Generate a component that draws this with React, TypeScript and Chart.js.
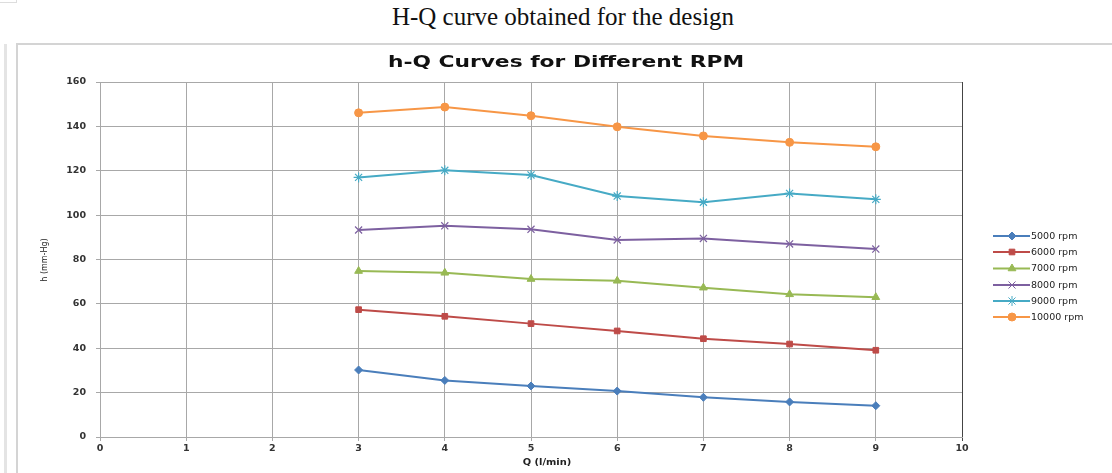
import React, { useEffect, useRef } from "react";
import { Chart, registerables } from "chart.js";
import { drawPoint } from "chart.js/helpers";

Chart.register(...registerables);

const qValues = [3, 4, 5, 6, 7, 8, 9];
const seriesNames = ["5000 rpm", "6000 rpm", "7000 rpm", "8000 rpm", "9000 rpm", "10000 rpm"];
const h5000 = [30.2, 25.5, 23.0, 20.7, 17.9, 15.8, 14.1];
const h6000 = [57.4, 54.4, 51.1, 47.8, 44.3, 41.9, 39.1];
const h7000 = [74.8, 74.0, 71.2, 70.4, 67.3, 64.3, 63.0];
const h8000 = [93.3, 95.2, 93.6, 88.8, 89.5, 87.0, 84.7];
const h9000 = [117.0, 120.2, 118.1, 108.6, 105.8, 109.8, 107.1];
const h10000 = [146.1, 148.7, 144.8, 139.8, 135.7, 132.8, 130.8];
const xTicks = [0, 1, 2, 3, 4, 5, 6, 7, 8, 9, 10];
const yTicks = [0, 20, 40, 60, 80, 100, 120, 140, 160];

const pageTitle = "H-Q curve obtained for the design";
const chartTitle = "h-Q Curves for Different RPM";
const xTitle = "Q (l/min)";
const yTitle = "h (mm-Hg)";

const colors = ["#4A7EBB", "#BE4B48", "#98B954", "#7D60A0", "#46AAC5", "#F79646"];
const markers = ["rectRot", "rect", "triangle", "crossRot", "star", "circle"];
const radii = [4, 4, 4.5, 5, 5, 4];

const FONT = "'DejaVu Sans', Verdana, sans-serif";

const overlayPlugin = {
  id: "overlay",
  afterDraw(chart: any) {
    const ctx = chart.ctx;
    ctx.save();
    // chart title
    ctx.fillStyle = "#111";
    ctx.font = `bold 16px ${FONT}`;
    ctx.textAlign = "center";
    ctx.textBaseline = "middle";
    ctx.save();
    ctx.translate(548, 18);
    ctx.scale(1.36, 1);
    ctx.fillText(chartTitle, 0, 0);
    ctx.restore();
    // axis titles
    ctx.font = `bold 9px ${FONT}`;
    ctx.fillStyle = "#222";
    ctx.save();
    ctx.translate(529, 418);
    ctx.scale(1.1, 1);
    ctx.fillText(xTitle, 0, 0);
    ctx.restore();
    ctx.save();
    ctx.translate(27, 215);
    ctx.rotate(-Math.PI / 2);
    ctx.font = `8px ${FONT}`;
    ctx.fillText(yTitle, 0, 0);
    ctx.restore();
    // legend
    const rows = [191, 207, 223.5, 240, 256, 272];
    ctx.textAlign = "left";
    ctx.font = `9.5px ${FONT}`;
    chart.data.datasets.forEach((ds: any, i: number) => {
      const y = rows[i];
      ctx.strokeStyle = ds.borderColor;
      ctx.lineWidth = 2;
      ctx.beginPath();
      ctx.moveTo(975, y);
      ctx.lineTo(1012, y);
      ctx.stroke();
      ctx.fillStyle = ds.pointBackgroundColor;
      ctx.strokeStyle = ds.pointBorderColor;
      ctx.lineWidth = 1;
      drawPoint(ctx, { pointStyle: ds.pointStyle, radius: ds.pointRadius, rotation: 0, borderWidth: 1 }, 994, y);
      ctx.fillStyle = "#222";
      ctx.fillText(ds.label, 1013, y + 0.5);
    });
    ctx.restore();
  },
};

export default function App() {
  const canvasRef = useRef<HTMLCanvasElement | null>(null);

  useEffect(() => {
    const canvas = canvasRef.current;
    if (!canvas) return;
    const series = [h5000, h6000, h7000, h8000, h9000, h10000];
    const chart = new Chart(canvas, {
      type: "line",
      data: {
        datasets: series.map((vals, i) => ({
          label: seriesNames[i],
          data: vals.map((v, j) => ({ x: qValues[j], y: v })),
          borderColor: colors[i],
          backgroundColor: colors[i],
          pointBackgroundColor: colors[i],
          pointBorderColor: colors[i],
          pointStyle: markers[i],
          pointRadius: radii[i],
          pointBorderWidth: i === 3 || i === 4 ? 1.2 : 1,
          borderWidth: 2,
          tension: 0,
          fill: false,
        })),
      },
      options: {
        animation: false,
        responsive: false,
        maintainAspectRatio: false,
        layout: { padding: { left: 0, right: 150, top: 37, bottom: 0 } },
        plugins: {
          legend: { display: false },
          title: { display: false },
          tooltip: { enabled: false },
        },
        scales: {
          x: {
            type: "linear",
            min: 0,
            max: 10,
            afterBuildTicks: (scale: any) => {
              scale.ticks = xTicks.map((v) => ({ value: v }));
            },
            afterFit: (scale: any) => {
              scale.height = 36;
            },
            ticks: {
              color: "#333",
              font: { family: FONT, size: 9.5, weight: "bold" },
              padding: 2,
              maxRotation: 0,
            },
            grid: {
              color: (c: any) => (c.tick && c.tick.value === 10 ? "#444" : "#A8A8A8"),
              lineWidth: 1,
              tickLength: 4,
            },
            border: { color: "#A8A8A8" },
          },
          y: {
            type: "linear",
            min: 0,
            max: 160,
            afterBuildTicks: (scale: any) => {
              scale.ticks = yTicks.map((v) => ({ value: v }));
            },
            afterFit: (scale: any) => {
              scale.width = 82;
            },
            ticks: {
              color: "#333",
              font: { family: FONT, size: 9.5, weight: "bold" },
              padding: 10,
            },
            grid: {
              color: "#A8A8A8",
              lineWidth: 1,
              tickLength: 4,
            },
            border: { color: "#A8A8A8" },
          },
        },
      },
      plugins: [overlayPlugin],
    } as any);
    return () => chart.destroy();
  }, []);

  return (
    <div style={{ position: "absolute", left: 0, top: 0, width: 1112, height: 473, background: "#fff", overflow: "hidden" }}>
      <div style={{ position: "absolute", left: 0, top: 0, width: 16, height: 2, borderRight: "1px solid #ddd", borderBottom: "1px solid #ddd" }} />
      <div
        style={{
          position: "absolute",
          left: 0,
          top: 2,
          width: 1112,
          textAlign: "center",
          fontFamily: "'Liberation Serif', 'Times New Roman', serif",
          fontSize: 25,
          color: "#111",
          lineHeight: "30px",
          paddingLeft: 14,
          boxSizing: "border-box",
        }}
      >
        {pageTitle}
      </div>
      <div style={{ position: "absolute", left: 4, top: 44, width: 3, height: 429, background: "#E4E4E4" }} />
      <div style={{ position: "absolute", left: 16, top: 43, width: 1100, height: 440, borderLeft: "2px solid #D4D4D4", borderTop: "2px solid #D4D4D4" }} />
      <canvas ref={canvasRef} width={1094} height={428} style={{ position: "absolute", left: 18, top: 45, width: 1094, height: 428 }} />
    </div>
  );
}
